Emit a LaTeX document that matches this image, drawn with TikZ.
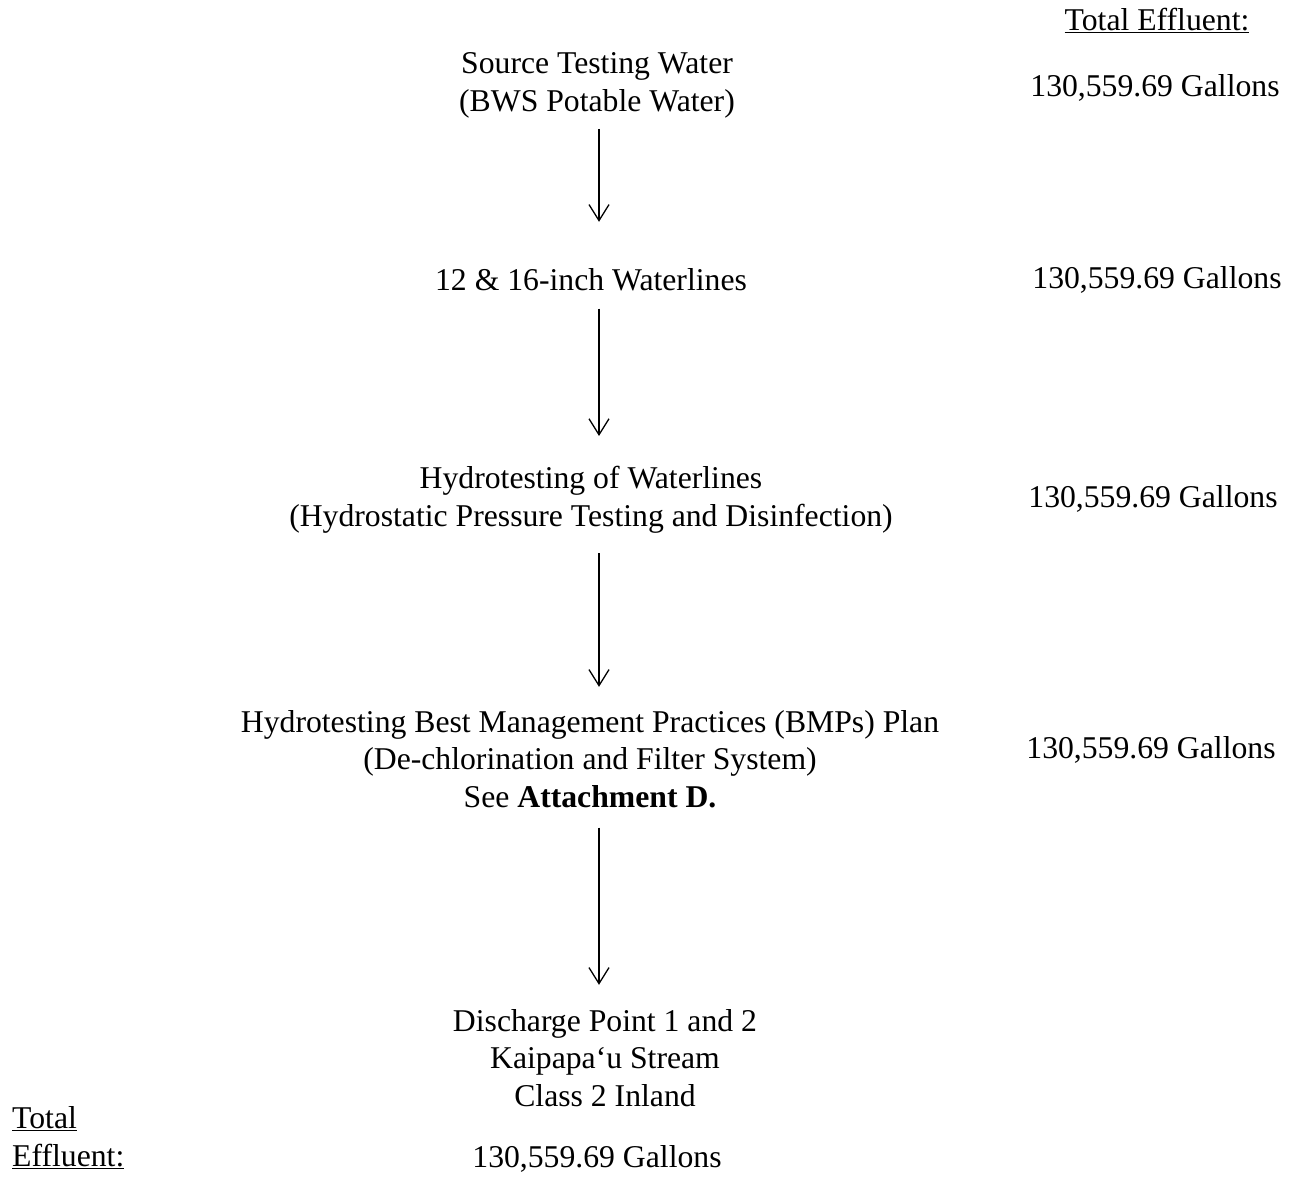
\documentclass[tikz,border=0pt]{standalone}
\usepackage{fontspec}
\setmainfont{Liberation Serif}
\usetikzlibrary{arrows.meta}
\newcommand\mytightlines{\lineskiplimit-100pt\relax}
\begin{document}
\begin{tikzpicture}[x=1pt,y=-1pt,
  txt/.style={inner sep=0pt, align=center, font=\fontsize{31.7}{37.5}\selectfont, anchor=base},
  ltxt/.style={inner sep=0pt, align=left, font=\fontsize{31.7}{38}\selectfont\mytightlines, anchor=base west},
  flow/.style={draw, line width=1.3pt, -{Straight Barb[length=16pt,width=20pt,line width=1.3pt]}}]
\useasboundingbox (0,0) rectangle (1294,1178);
\coordinate (ax) at (599,0);
% header
\node[txt] (te) at (1157,30) {\underline{Total Effluent:}};
% flow nodes (base = baseline of last line)
\node[txt] (src) at (597,111) {Source Testing Water\\(BWS Potable Water)};
\node[txt] (water) at (591,290) {12 \& 16-inch Waterlines};
\node[txt] (hydro) at (591,526) {Hydrotesting of Waterlines\\(Hydrostatic Pressure Testing and Disinfection)};
\node[txt] (bmp) at (590,807) {Hydrotesting Best Management Practices (BMPs) Plan\\(De-chlorination and Filter System)\\See \textbf{Attachment D.}};
\node[txt] (dis) at (605,1106) {Discharge Point 1 and 2\\Kaipapa‘u Stream\\Class 2 Inland};
% volumes
\node[txt] (g1) at (1155,96) {130,559.69 Gallons};
\node[txt] (g2) at (1157,288) {130,559.69 Gallons};
\node[txt] (g3) at (1153,507) {130,559.69 Gallons};
\node[txt] (g4) at (1151,758) {130,559.69 Gallons};
\node[txt] (g5) at (597,1167) {130,559.69 Gallons};
\node[ltxt] (te2) at (12,1166) {\underline{Total}\\\underline{Effluent:}};
% arrows
\draw[flow, shorten <=11pt, shorten >=46pt] (src.south -| ax) -- (water.north -| ax);
\draw[flow, shorten <=18pt, shorten >=30pt] (water.south -| ax) -- (hydro.north -| ax);
\draw[flow, shorten <=20pt, shorten >=23pt] (hydro.south -| ax) -- (bmp.north -| ax);
\draw[flow, shorten <=20pt, shorten >=24pt] (bmp.south -| ax) -- (dis.north -| ax);
\end{tikzpicture}
\end{document}
